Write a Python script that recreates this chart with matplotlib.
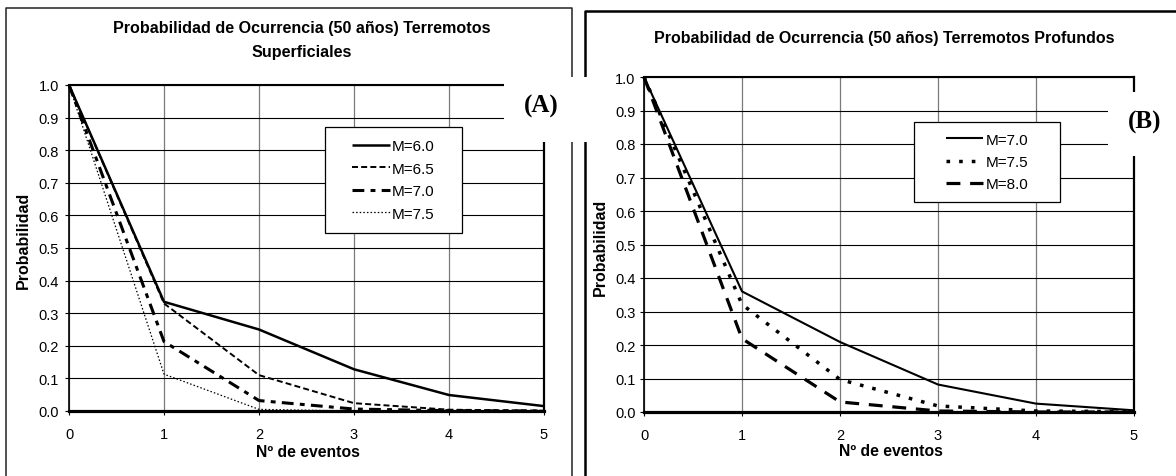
import numpy as np
import matplotlib
matplotlib.use("Agg")
import matplotlib.pyplot as plt
from matplotlib.patches import Rectangle
from matplotlib.lines import Line2D

plt.rcParams['font.family'] = ['Liberation Sans', 'DejaVu Sans']
plt.rcParams['lines.scale_dashes'] = False

# ---- data -------------------------------------------------------------
eventos = [0, 1, 2, 3, 4, 5]
y_ticks = [0.0, 0.1, 0.2, 0.3, 0.4, 0.5, 0.6, 0.7, 0.8, 0.9, 1.0]

sup_labels = ["M=6.0", "M=6.5", "M=7.0", "M=7.5"]
sup_m60 = [1.0, 0.335, 0.250, 0.128, 0.049, 0.015]
sup_m65 = [1.0, 0.330, 0.110, 0.024, 0.004, 0.001]
sup_m70 = [1.0, 0.213, 0.032, 0.006, 0.001, 0.000]
sup_m75 = [1.0, 0.113, 0.005, 0.000, 0.000, 0.000]

prof_labels = ["M=7.0", "M=7.5", "M=8.0"]
prof_m70 = [1.0, 0.360, 0.209, 0.082, 0.025, 0.005]
prof_m75 = [1.0, 0.321, 0.097, 0.018, 0.003, 0.001]
prof_m80 = [1.0, 0.219, 0.030, 0.003, 0.000, 0.000]

title_a = ["Probabilidad de Ocurrencia (50 años) Terremotos", "Superficiales"]
title_b = "Probabilidad de Ocurrencia (50 años) Terremotos Profundos"
xlabel = "Nº de eventos"
ylabel = "Probabilidad"

# ---- layout helpers (pixel -> figure fraction) -------------------------
W, H = 1176, 477
fig = plt.figure(figsize=(W / 100, H / 100), dpi=100)
fig.patch.set_facecolor("white")


def fx(x):
    return x / W


def fy(y):
    return 1 - y / H


def make_axes(left, top, right, bottom, ypad):
    ax = fig.add_axes([fx(left), fy(bottom), (right - left) / W, (bottom - top) / H])
    ax.set_xlim(0, 5)
    ax.set_ylim(0, 1)
    ax.set_xticks(eventos)
    ax.set_yticks(y_ticks)
    ax.set_yticklabels([f"{v:.1f}" for v in y_ticks])
    ax.set_axisbelow(True)
    ax.yaxis.grid(True, color="black", lw=0.8)
    ax.xaxis.grid(True, color="#7a7a7a", lw=0.9)
    ax.tick_params(axis="both", direction="out", length=3, width=0.8,
                   color="black", labelsize=10.5)
    ax.tick_params(axis="x", pad=8.5)
    ax.tick_params(axis="y", pad=ypad)
    ax.spines["left"].set_linewidth(1.2)
    ax.spines["bottom"].set_linewidth(2.3)
    ax.spines["top"].set_linewidth(1.5)
    ax.spines["right"].set_linewidth(1.6)
    return ax


def legend_box(ax, left, top, right, bottom, handles, labels):
    ax.add_patch(Rectangle((fx(left), fy(bottom)), (right - left) / W, (bottom - top) / H,
                           transform=fig.transFigure, facecolor="white",
                           edgecolor="black", lw=0.9, zorder=4, clip_on=False))
    ax.legend(handles, labels, loc="center",
              bbox_to_anchor=(fx((left + right) / 2), fy((top + bottom) / 2)),
              bbox_transform=fig.transFigure, frameon=False, fontsize=11,
              handlelength=2.45, handletextpad=0.15, labelspacing=0.55,
              borderpad=0)


# ---- panel A: shallow earthquakes --------------------------------------
axA = make_axes(69, 86, 544, 412, ypad=4.3)
common = dict(color="black", clip_on=False, zorder=3,
              solid_capstyle="butt", dash_capstyle="butt")
hA = []
hA += axA.plot(eventos, sup_m60, lw=1.8, **common)
hA += axA.plot(eventos, sup_m65, lw=1.4, dashes=(4.3, 2.3), **common)
hA += axA.plot(eventos, sup_m70, lw=2.2, dashes=(8.5, 4.5, 3.5, 4.5), **common)
hA += axA.plot(eventos, sup_m75, lw=0.9, dashes=(1.1, 1.5), **common)
legend_box(axA, 325, 128, 462, 234, hA, sup_labels)

fig.text(fx(302), fy(28), title_a[0], ha="center", va="center",
         fontsize=11.6, fontweight="bold")
fig.text(fx(302), fy(52), title_a[1], ha="center", va="center",
         fontsize=11.6, fontweight="bold")
fig.text(fx(308), fy(453), xlabel, ha="center", va="center",
         fontsize=11.3, fontweight="bold")
fig.text(fx(23), fy(240), ylabel, ha="center", va="center", rotation=90,
         fontsize=11.5, fontweight="bold")

# ---- panel B: deep earthquakes -----------------------------------------
axB = make_axes(644, 78, 1134, 413, ypad=3.0)
hB = []
hB += axB.plot(eventos, prof_m70, lw=1.5, **common)
hB += axB.plot(eventos, prof_m75, lw=2.5, dashes=(2.6, 6.5), **common)
hB += axB.plot(eventos, prof_m80, lw=2.3, dashes=(10, 7), **common)
legend_box(axB, 914, 123, 1060, 203, hB, prof_labels)

fig.text(fx(884), fy(39), title_b, ha="center", va="center",
         fontsize=11.5, fontweight="bold")
fig.text(fx(891), fy(452), xlabel, ha="center", va="center",
         fontsize=11.3, fontweight="bold")
fig.text(fx(600), fy(247), ylabel, ha="center", va="center", rotation=90,
         fontsize=11.5, fontweight="bold")

# ---- outer chart frames --------------------------------------------------
fig.add_artist(Line2D([fx(6), fx(6), fx(572), fx(572)], [fy(480), fy(9), fy(9), fy(480)],
                      transform=fig.transFigure, color="#222222", lw=1.1, zorder=1))
fig.add_artist(Line2D([fx(585), fx(585), fx(1180)], [fy(480), fy(12), fy(12)],
                      transform=fig.transFigure, color="black", lw=1.8, zorder=1))

# ---- panel tags on white boxes ------------------------------------------
fig.add_artist(Rectangle((fx(504), fy(143)), 88 / W, 65 / H, transform=fig.transFigure,
                         facecolor="white", edgecolor="none", zorder=5))
fig.add_artist(Rectangle((fx(1108), fy(157)), 70 / W, 64 / H, transform=fig.transFigure,
                         facecolor="white", edgecolor="none", zorder=5))
fig.text(fx(541), fy(106), "(A)", ha="center", va="center", fontsize=18,
         fontweight="bold", family="Liberation Serif", zorder=6)
fig.text(fx(1145), fy(122), "(B)", ha="center", va="center", fontsize=18,
         fontweight="bold", family="Liberation Serif", zorder=6)

fig.savefig("out.png", dpi=100, facecolor="white")
